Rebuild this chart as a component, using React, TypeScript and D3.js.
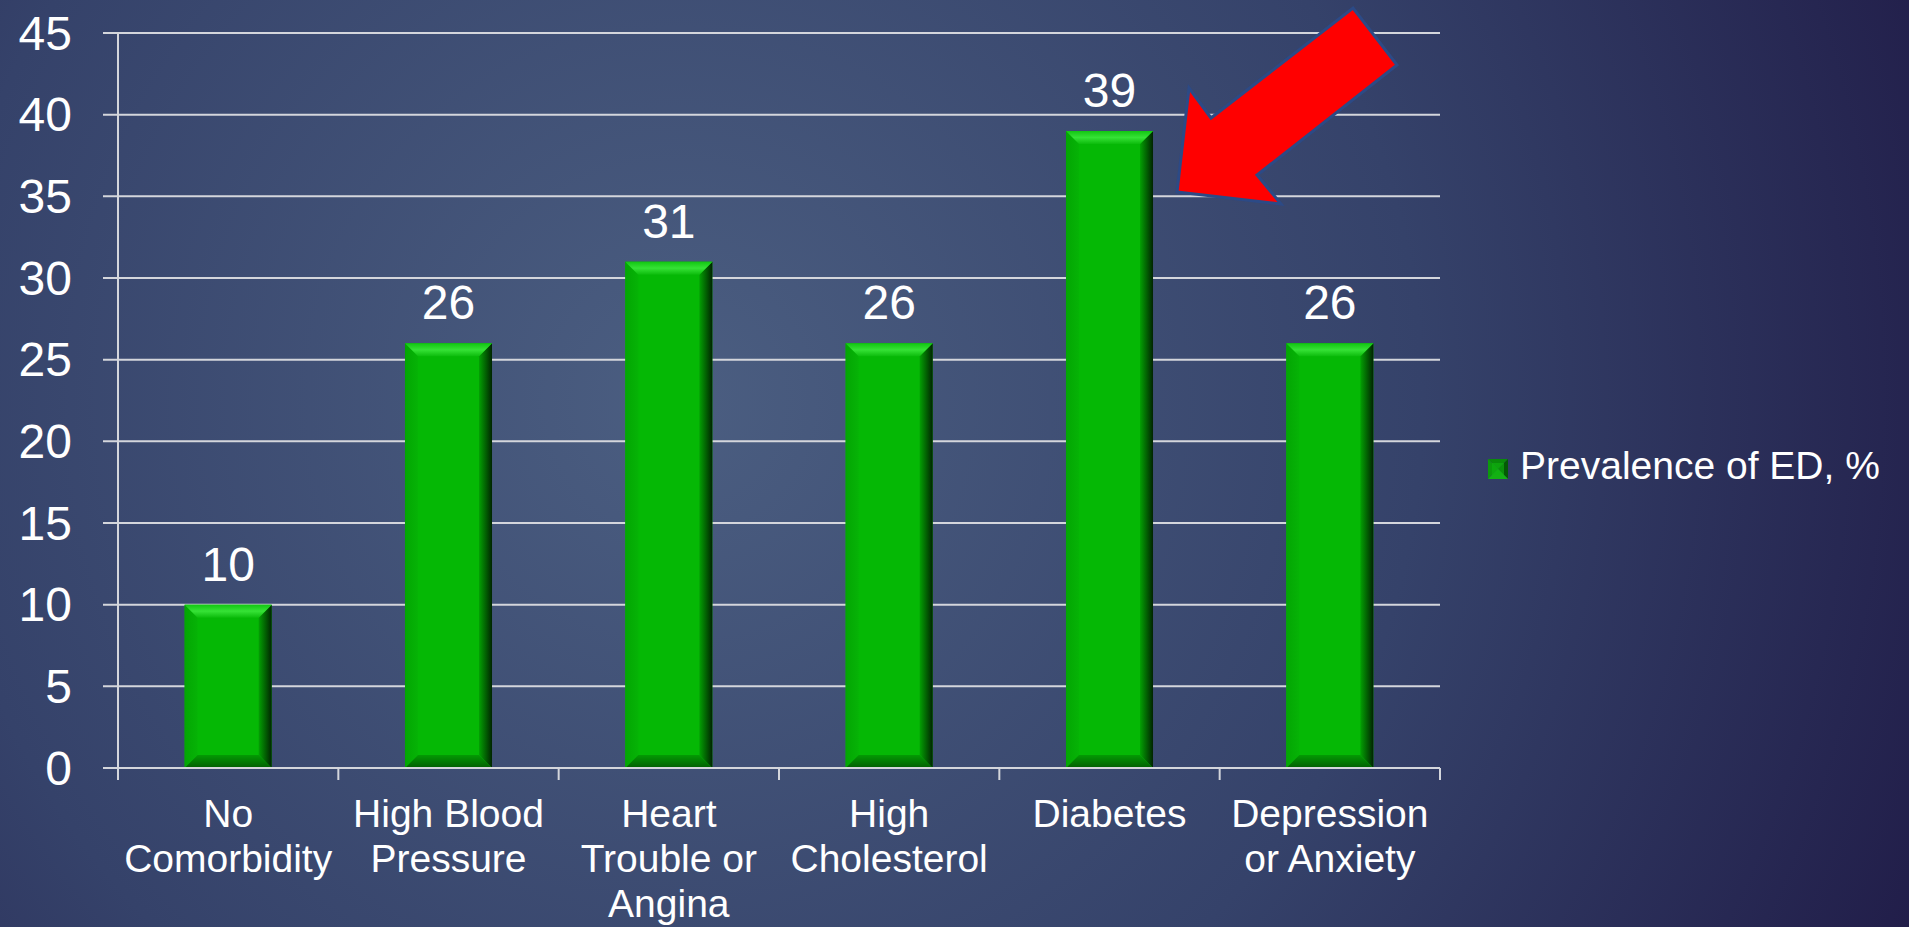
import { useEffect, useRef } from "react";
import * as d3 from "d3";

const categories = [
  "No Comorbidity",
  "High Blood Pressure",
  "Heart Trouble or Angina",
  "High Cholesterol",
  "Diabetes",
  "Depression or Anxiety",
];
const categoryLines = [
  ["No", "Comorbidity"],
  ["High Blood", "Pressure"],
  ["Heart", "Trouble or", "Angina"],
  ["High", "Cholesterol"],
  ["Diabetes"],
  ["Depression", "or Anxiety"],
];
const prevalence = [10, 26, 31, 26, 39, 26];
const yTicks = [0, 5, 10, 15, 20, 25, 30, 35, 40, 45];
const seriesName = "Prevalence of ED, %";
const highlighted = "Diabetes";

const W = 1909;
const H = 927;
const FONT = "'Liberation Sans', Arial, sans-serif";

export default function App() {
  const ref = useRef<SVGSVGElement | null>(null);

  useEffect(() => {
    if (!ref.current) return;
    const svg = d3.select(ref.current);
    svg.selectAll("*").remove();

    const margin = { top: 33, right: 469, bottom: 159, left: 118 };

    const x = d3.scaleBand<string>()
      .domain(categories)
      .range([margin.left, W - margin.right])
      .padding(0);

    const y = d3.scaleLinear()
      .domain([0, 45])
      .range([H - margin.bottom, margin.top]);

    const defs = svg.append("defs");

    // background
    const bg = defs.append("radialGradient")
      .attr("id", "bg")
      .attr("gradientUnits", "userSpaceOnUse")
      .attr("cx", 680).attr("cy", 400).attr("r", 1350);
    bg.append("stop").attr("offset", "0").attr("stop-color", "#4b5e81");
    bg.append("stop").attr("offset", "0.55").attr("stop-color", "#35426a");
    bg.append("stop").attr("offset", "1").attr("stop-color", "#211d49");

    const lin = (id: string, x2: number, y2: number, stops: [number, string][]) => {
      const g = defs.append("linearGradient").attr("id", id)
        .attr("x1", 0).attr("y1", 0).attr("x2", x2).attr("y2", y2);
      stops.forEach(([o, c]) => g.append("stop").attr("offset", o).attr("stop-color", c));
    };
    lin("bevTop", 0, 1, [[0, "#12c612"], [0.5, "#36e236"], [1, "#0cbc0c"]]);
    lin("bevRight", 1, 0, [[0, "#03a003"], [0.6, "#025602"], [1, "#012401"]]);
    lin("bevBottom", 0, 1, [[0, "#039a03"], [1, "#035e03"]]);
    lin("bevLeft", 1, 0, [[0, "#03a603"], [1, "#06b306"]]);

    svg.append("rect").attr("width", W).attr("height", H).attr("fill", "url(#bg)");

    // gridlines + y ticks
    const grid = svg.append("g");
    grid.selectAll("line")
      .data(yTicks.filter(t => t > 0))
      .enter()
      .append("line")
      .attr("x1", margin.left - 15)
      .attr("x2", W - margin.right)
      .attr("y1", d => y(d))
      .attr("y2", d => y(d))
      .attr("stroke", "#d4d6dc")
      .attr("stroke-width", 2);

    svg.append("g")
      .selectAll("text")
      .data(yTicks)
      .enter()
      .append("text")
      .attr("x", 72)
      .attr("y", d => y(d))
      .attr("dy", "0.35em")
      .attr("text-anchor", "end")
      .attr("fill", "white")
      .attr("font-family", FONT)
      .attr("font-size", 48)
      .text(d => d);

    // bars
    const barW = x.bandwidth() * 0.395;
    const bev = 13;
    const bars = svg.append("g");
    categories.forEach((c, i) => {
      const v = prevalence[i];
      const x0 = x(c)! + (x.bandwidth() - barW) / 2;
      const x1 = x0 + barW;
      const y0 = y(v);
      const y1 = y(0);
      const g = bars.append("g");
      g.append("rect")
        .attr("x", x0).attr("y", y0)
        .attr("width", barW).attr("height", y1 - y0)
        .attr("fill", "#05b805");
      const poly = (pts: [number, number][], fill: string) =>
        g.append("polygon").attr("points", pts.map(p => p.join(",")).join(" ")).attr("fill", fill);
      poly([[x0, y0], [x0 + bev, y0 + bev], [x0 + bev, y1 - bev], [x0, y1]], "url(#bevLeft)");
      poly([[x1, y0], [x1, y1], [x1 - bev, y1 - bev], [x1 - bev, y0 + bev]], "url(#bevRight)");
      poly([[x0, y1], [x0 + bev, y1 - bev], [x1 - bev, y1 - bev], [x1, y1]], "url(#bevBottom)");
      poly([[x0, y0], [x1, y0], [x1 - bev, y0 + bev], [x0 + bev, y0 + bev]], "url(#bevTop)");

      g.append("text")
        .attr("x", (x0 + x1) / 2)
        .attr("y", y0 - 24)
        .attr("text-anchor", "middle")
        .attr("fill", "white")
        .attr("font-family", FONT)
        .attr("font-size", 48)
        .text(v);
    });

    // axes
    svg.append("line")
      .attr("x1", margin.left).attr("x2", margin.left)
      .attr("y1", y(45)).attr("y2", y(0) + 12)
      .attr("stroke", "#d4d6dc").attr("stroke-width", 2);
    svg.append("line")
      .attr("x1", margin.left - 15).attr("x2", W - margin.right)
      .attr("y1", y(0)).attr("y2", y(0))
      .attr("stroke", "#d4d6dc").attr("stroke-width", 2);
    const bounds = categories.map(c => x(c)!).concat([W - margin.right]);
    svg.append("g").selectAll("line")
      .data(bounds)
      .enter()
      .append("line")
      .attr("x1", d => d).attr("x2", d => d)
      .attr("y1", y(0)).attr("y2", y(0) + 12)
      .attr("stroke", "#d4d6dc").attr("stroke-width", 2);

    // category labels
    const labels = svg.append("g");
    categories.forEach((c, i) => {
      const t = labels.append("text")
        .attr("x", x(c)! + x.bandwidth() / 2)
        .attr("y", y(0) + 59)
        .attr("text-anchor", "middle")
        .attr("fill", "white")
        .attr("font-family", FONT)
        .attr("font-size", 39);
      categoryLines[i].forEach((ln, j) => {
        t.append("tspan")
          .attr("x", x(c)! + x.bandwidth() / 2)
          .attr("dy", j === 0 ? 0 : 45)
          .text(ln);
      });
    });

    // legend
    const lg = svg.append("g").attr("transform", "translate(1488,459)");
    const s = 20;
    const c = s / 2;
    const tri = (pts: [number, number][], fill: string) =>
      lg.append("polygon").attr("points", pts.map(p => p.join(",")).join(" ")).attr("fill", fill);
    tri([[0, 0], [s, 0], [c, c]], "#0a8a0a");
    tri([[0, 0], [c, c], [0, s]], "#0c9a0c");
    tri([[s, 0], [s, s], [c, c]], "#045a04");
    tri([[0, s], [c, c], [s, s]], "#14b014");
    lg.append("rect").attr("x", 4).attr("y", 4).attr("width", s - 8).attr("height", s - 8)
      .attr("fill", "#0fb40f").attr("opacity", 0.6);
    lg.append("text")
      .attr("x", 32)
      .attr("y", 20)
      .attr("fill", "white")
      .attr("font-family", FONT)
      .attr("font-size", 39)
      .text(seriesName);

    // arrow pointing at highlighted bar
    const hi = categories.indexOf(highlighted);
    const ax = x(highlighted)! + (x.bandwidth() + barW) / 2;
    const ay = y(prevalence[hi]);
    const arrowShape: [number, number][] = [
      [24, 61], [36, -43], [58, -13], [200, -123], [244, -66], [104, 44], [128, 73],
    ];
    svg.append("polygon")
      .attr("points", arrowShape.map(([dx, dy]) => `${ax + dx},${ay + dy}`).join(" "))
      .attr("fill", "#ff0000")
      .attr("stroke", "#2c4a86")
      .attr("stroke-width", 3)
      .attr("stroke-linejoin", "miter");
  }, []);

  return (
    <div style={{ position: "absolute", left: 0, top: 0, width: W, height: H }}>
      <svg ref={ref} width={W} height={H} style={{ display: "block" }} />
    </div>
  );
}
